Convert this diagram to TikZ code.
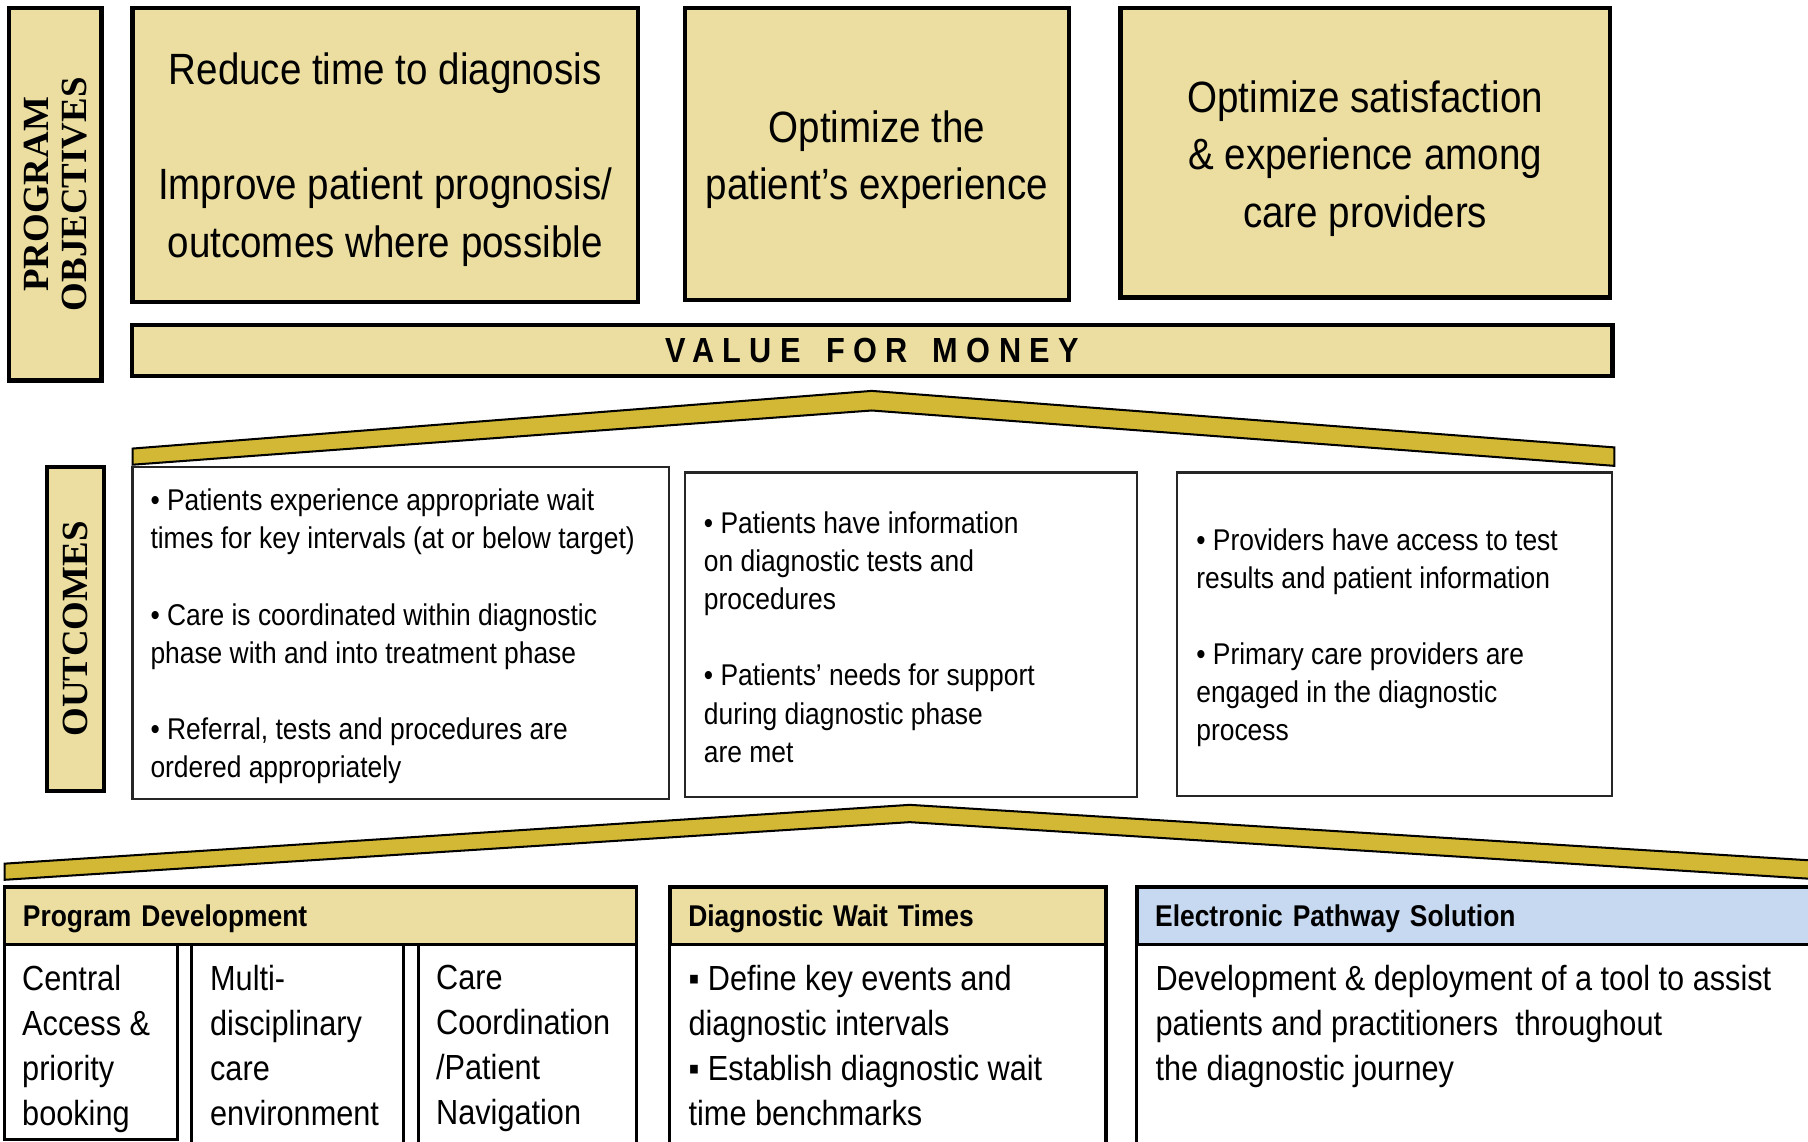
\documentclass[tikz,border=0pt]{standalone}
\usepackage{fontspec}
\setmainfont{Liberation Sans}[FakeStretch=0.88]
\newfontfamily\lblfont{Liberation Serif}
\newfontfamily\vfmfont{Liberation Sans}[FakeStretch=0.88,LetterSpace=24,WordSpace=1.5]
\usetikzlibrary{positioning}
\definecolor{khaki}{RGB}{235,222,160}
\definecolor{gold}{RGB}{210,184,52}
\definecolor{paleblue}{RGB}{198,217,240}

\begin{document}
\begin{tikzpicture}[x=0.01cm,y=-0.01cm,
    objbox/.style={draw,line width=1.1pt,fill=khaki,inner sep=0pt},
    objtext/.style={align=center,inner sep=0pt,font=\fontsize{10.8}{14.2}\selectfont},
    vlabel/.style={rotate=90,align=center,inner sep=0pt,
      font=\lblfont\bfseries\fontsize{9.1}{9.4}\selectfont},
    roof/.style={draw,line width=0.5pt,fill=gold},
    outbox/.style={draw=black!85,line width=0.6pt,fill=white,inner sep=0pt},
    outtext/.style={align=left,inner sep=0pt,font=\fontsize{7.4}{9.4}\selectfont},
    headbox/.style={draw,line width=0.9pt,fill=khaki,minimum height=0.5cm,text depth=0pt,
      inner xsep=0.16cm,align=left,font=\bfseries\fontsize{7.4}{8}\selectfont},
    bodybox/.style={draw,line width=0.8pt,fill=white,inner sep=0pt},
    bodytext/.style={align=left,inner sep=0pt,font=\fontsize{8.6}{11.1}\selectfont}]%
        \useasboundingbox (0,0) rectangle (1568,990);
        %% program objectives
        \node[objbox,minimum width=0.80cm,minimum height=3.23cm] (objl) at (48,168.5) {}; %%
        \node[vlabel] (objt) at (objl) {PROGRAM\\OBJECTIVES}; %%
        \node[objbox,minimum width=4.38cm,minimum height=2.55cm] (obj1) at (334,134.5) {}; %%
        \node[objbox,minimum width=3.33cm,minimum height=2.53cm] (obj2) at (760.5,133.5) {}; %%
        \node[objbox,minimum width=4.24cm,minimum height=2.51cm] (obj3) at (1184,132.5) {}; %%
        \node[objtext,below=0.04cm of obj1.center,anchor=center] (obj1t)
          {Reduce time to diagnosis\\[14.2pt]Improve patient prognosis/\\outcomes where possible}; %%
        \node[objtext,below=0.05cm of obj2.center,anchor=center] (obj2t)
          {Optimize the\\patient’s experience}; %%
        \node[objtext,below=0.05cm of obj3.center,anchor=center] (obj3t)
          {Optimize satisfaction\\\& experience among\\care providers}; %%
        \node[objbox,minimum width=12.83cm,minimum height=0.44cm,
          font=\vfmfont\bfseries\fontsize{8.6}{10}\selectfont] (vfm) at (756.5,304) {VALUE FOR MONEY}; %%
        \draw[roof] (115,389)--(756,339)--(1400,388)--(1400,404)--(756,356)--(115,403)--cycle; %%
        %% outcomes
        \node[objbox,minimum width=0.49cm,minimum height=2.81cm] (outl) at (65.5,545.5) {}; %%
        \node[vlabel] (outt) at (outl) {OUTCOMES}; %%
        \node[outbox,minimum width=4.65cm,minimum height=2.88cm] (out1) at (347.5,549) {}; %%
        \node[outbox,minimum width=3.92cm,minimum height=2.81cm] (out2) at (790,550.5) {}; %%
        \node[outbox,minimum width=3.77cm,minimum height=2.80cm] (out3) at (1209.5,550) {}; %%
        \node[outtext,right=0.16cm of out1.west,yshift=-0.03cm] (out1t)
          {• Patients experience appropriate wait\\times for key intervals (at or below target)\\[9.4pt]%
           • Care is coordinated within diagnostic\\phase with and into treatment phase\\[9.4pt]%
           • Referral, tests and procedures are\\ordered appropriately}; %%
        \node[outtext,right=0.17cm of out2.west,yshift=-0.02cm] (out2t)
          {• Patients have information\\on diagnostic tests and\\procedures\\[9.4pt]%
           • Patients’ needs for support\\during diagnostic phase\\are met}; %%
        \node[outtext,right=0.17cm of out3.west,yshift=-0.03cm] (out3t)
          {• Providers have access to test\\results and patient information\\[9.4pt]%
           • Primary care providers are\\engaged in the diagnostic\\process}; %%
        \draw[roof] (4,749)--(789,698)--(1600,748)--(1600,764)--(789,713)--(4,763)--cycle; %%
        %% programs
        \node[headbox,text width=5.16cm] (pdh) at (278,794) {Program Development}; %%
        \node[headbox,text width=3.46cm] (dwh) at (770,794) {Diagnostic Wait Times}; %%
        \node[headbox,text width=5.82cm,fill=paleblue] (eph) at (1293,794) {Electronic Pathway Solution}; %%
        \node[bodybox,minimum width=1.50cm,minimum height=1.69cm] (pda) at (79,903.5) {}; %%
        \node[bodybox,minimum width=1.84cm,minimum height=1.91cm] (pdb) at (258,914.5) {}; %%
        \node[bodybox,minimum width=1.89cm,minimum height=1.91cm] (pdc) at (457.5,914.5) {}; %%
        \node[bodybox,minimum width=3.78cm,minimum height=1.91cm] (dwb) at (770,914.5) {}; %%
        \node[bodybox,minimum width=6.14cm,minimum height=1.91cm] (epb) at (1293,914.5) {}; %%
        \node[bodytext,below right=0.19cm and 0.16cm of pda.north west] (pdat)
          {Central\\Access \&\\priority\\booking}; %%
        \node[bodytext,below right=0.19cm and 0.17cm of pdb.north west] (pdbt)
          {Multi-\\disciplinary\\care\\environment}; %%
        \node[bodytext,below right=0.19cm and 0.16cm of pdc.north west] (pdct)
          {Care\\Coordination\\/Patient\\Navigation}; %%
        \node[bodytext,below right=0.19cm and 0.17cm of dwb.north west] (dwbt)
          {▪ Define key events and\\diagnostic intervals\\▪ Establish diagnostic wait\\time benchmarks}; %%
        \node[bodytext,below right=0.19cm and 0.17cm of epb.north west] (epbt)
          {Development \& deployment of a tool to assist\\patients and practitioners\ \ throughout\\the diagnostic journey}; %%
\end{tikzpicture}
\end{document}
